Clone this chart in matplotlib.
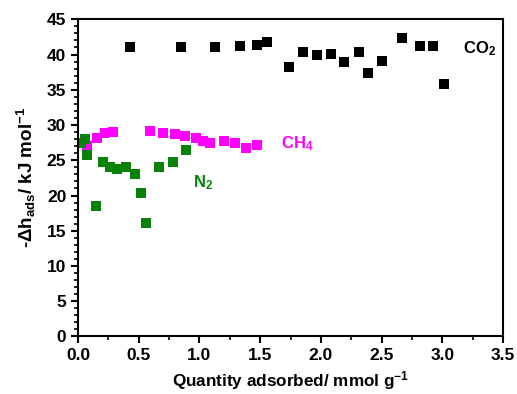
import matplotlib
matplotlib.use('Agg')
matplotlib.rcParams['font.family'] = 'Liberation Sans'
matplotlib.rcParams['font.weight'] = 'bold'
matplotlib.rcParams['mathtext.fontset'] = 'custom'
matplotlib.rcParams['mathtext.rm'] = 'Liberation Sans:bold'
matplotlib.rcParams['mathtext.default'] = 'rm'
import matplotlib.pyplot as plt
from matplotlib.ticker import MultipleLocator

# CO2
co2_x = [0.43, 0.85, 1.13, 1.33, 1.47, 1.56, 1.74, 1.85, 1.97, 2.08, 2.19, 2.31,
         2.39, 2.50, 2.67, 2.82, 2.92, 3.01]
co2_y = [41.0, 41.1, 41.1, 41.2, 41.4, 41.8, 38.3, 40.4, 39.9, 40.1, 39.0, 40.4,
         37.4, 39.1, 42.3, 41.2, 41.2, 35.8]

# CH4
ch4_x = [0.072, 0.154, 0.222, 0.288, 0.595, 0.703, 0.80, 0.884, 0.974, 1.03,
         1.09, 1.20, 1.29, 1.38, 1.47]
ch4_y = [27.0, 28.2, 28.8, 29.0, 29.2, 28.9, 28.7, 28.4, 28.1, 27.8,
         27.5, 27.7, 27.4, 26.8, 27.1]

# N2
n2_x = [0.022, 0.058, 0.077, 0.148, 0.203, 0.264, 0.324, 0.393, 0.472, 0.519,
        0.56, 0.667, 0.78, 0.892]
n2_y = [27.5, 28.0, 25.8, 18.5, 24.8, 24.0, 23.8, 24.1, 23.0, 20.3,
        16.1, 24.1, 24.8, 26.4]

GREEN = '#078207'
MAGENTA = '#ff00ff'

fig = plt.figure(figsize=(5.17, 3.94), dpi=100)
ax = fig.add_axes([0.151, 0.146, 0.822, 0.805])

ms = 6.8
ax.plot(co2_x, co2_y, 's', color='black', ms=ms, mew=0)
ax.plot(ch4_x, ch4_y, 's', color=MAGENTA, ms=ms, mew=0)
ax.plot(n2_x, n2_y, 's', color=GREEN, ms=ms, mew=0)

ax.text(3.17, 40.9, 'CO$_2$', color='black', fontsize=12, va='center')
ax.text(1.67, 27.4, 'CH$_4$', color=MAGENTA, fontsize=12, va='center')
ax.text(0.95, 21.8, 'N$_2$', color=GREEN, fontsize=12, va='center')

ax.set_xlim(0, 3.5)
ax.set_ylim(0, 45)
ax.xaxis.set_major_locator(MultipleLocator(0.5))
ax.xaxis.set_minor_locator(MultipleLocator(0.25))
ax.yaxis.set_major_locator(MultipleLocator(5))
ax.yaxis.set_minor_locator(MultipleLocator(1))
ax.xaxis.set_major_formatter(matplotlib.ticker.FormatStrFormatter('%.1f'))

ax.tick_params(which='major', direction='out', length=5, width=1.5, labelsize=12.5)
ax.tick_params(which='minor', direction='out', length=3, width=1.2)
ax.tick_params(top=False, right=False)
for s in ax.spines.values():
    s.set_linewidth(1.5)

ax.set_xlabel('Quantity adsorbed/ mmol g$^{-1}$', fontsize=12.3, fontweight='bold')
ax.set_ylabel('-$\\Delta$h$_{ads}$/ kJ mol$^{-1}$', fontsize=13.5, fontweight='bold',
              labelpad=6)

fig.savefig('out.png', dpi=100)
